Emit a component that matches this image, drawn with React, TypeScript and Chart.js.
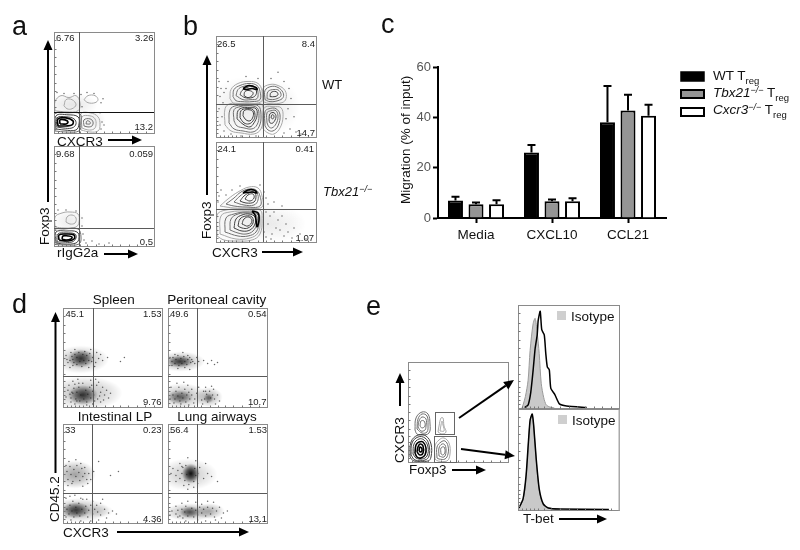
import React, { useEffect, useRef } from "react";
import { Chart, registerables } from "chart.js";

Chart.register(...registerables);

const FONT = "'Liberation Sans', Arial, sans-serif";

// ---------- Panel c values ----------
const migrationCategories = ["Media", "CXCL10", "CCL21"];
const wtTreg = [7, 26, 38];
const tbx21Treg = [5.5, 6.7, 42.7];
const cxcr3Treg = [5.5, 6.7, 40.6];
const wtUpper = [8.4, 29, 52.5];
const tbx21Upper = [6.2, 7.4, 49];
const cxcr3Upper = [7.1, 7.8, 45];
const migrationTicks = [0, 20, 40, 60];

// ---------- Flow panels: contour rings as flat x,y lists (percent of axis range) ----------
type Rings = { light?: number[][]; mid?: number[][]; dark?: number[][]; black?: number[][] };

const aTopRings: Rings = {
  light: [
    [1, 22, 1, 31, 7, 37, 15, 35, 22, 37, 26, 30, 24, 22, 12, 21],
    [10, 27, 12, 33, 18, 33, 22, 28, 18, 24, 13, 24],
    [30, 33, 34, 37, 41, 37, 44, 33, 41, 30, 34, 30],
    [27, 3, 27, 19, 36, 20, 44, 16, 46, 8, 44, 2, 36, 1],
    [28, 5, 28, 16, 36, 17, 41, 14, 42, 8, 40, 4, 34, 3],
  ],
  mid: [
    [30, 7, 30, 13, 36, 14, 39, 11, 38, 7, 34, 6],
    [32, 9, 33, 12, 36, 11, 36, 9],
    [1, 2, 0.5, 19, 14, 20, 26, 19, 27, 10, 25, 2, 12, 1],
  ],
  dark: [
    [2, 4, 2, 17, 14, 18, 24, 16, 25, 9, 22, 3, 10, 3],
    [3, 6, 3, 15, 12, 16, 20, 14, 22, 9, 18, 5, 9, 5],
  ],
  black: [
    [4, 7, 4, 14, 12, 15, 19, 12, 18, 8, 12, 7],
    [6, 9, 6, 13, 11, 13, 14, 11, 12, 9],
  ],
};
const aBottomRings: Rings = {
  light: [
    [1, 19, 1, 29, 8, 33, 16, 34, 24, 32, 25, 24, 22, 19, 10, 18],
    [12, 24, 13, 29, 18, 31, 22, 28, 21, 23, 16, 22],
  ],
  mid: [[1, 1.5, 0.5, 16, 10, 17, 24, 17, 27, 9, 25, 2, 12, 1]],
  dark: [
    [2, 3, 2, 14, 12, 15, 23, 14, 25, 8, 22, 3, 10, 2],
    [3, 4, 4, 12, 12, 13, 21, 12, 22, 8, 18, 4, 9, 4],
  ],
  black: [
    [5, 6, 5, 11, 12, 12, 20, 11, 20, 7, 14, 5],
    [8, 7, 9, 10, 14, 10, 18, 9, 17, 7, 12, 6],
  ],
};
const bTopRings: Rings = {
  light: [
    [14, 38, 15, 47, 22, 53, 33, 55, 42, 53, 46, 46, 46, 36, 38, 33, 26, 33, 18, 33],
    [47, 35, 47, 48, 54, 52, 62, 51, 69, 46, 70, 38, 66, 34, 54, 33],
    [9, 12, 9, 28, 14, 33, 25, 33, 37, 33, 46, 32, 47, 20, 45, 8, 38, 3, 25, 4, 15, 6],
    [47, 8, 47, 26, 50, 30, 57, 30, 65, 29, 67, 20, 64, 9, 58, 3, 52, 4],
  ],
  mid: [
    [17, 40, 18, 47, 24, 51, 33, 53, 41, 51, 44, 45, 44, 37, 36, 35, 26, 35, 20, 36],
    [20, 41, 22, 47, 27, 50, 34, 51, 40, 49, 42, 44, 41, 38, 35, 37, 27, 37],
    [49, 37, 49, 46, 55, 50, 62, 49, 67, 44, 67, 39, 62, 36, 54, 35],
    [51, 38, 52, 45, 58, 47, 63, 46, 65, 41, 61, 38, 55, 37],
    [13, 14, 14, 27, 20, 31, 30, 31, 42, 31, 45, 22, 43, 10, 37, 5, 27, 6, 18, 8],
    [18, 16, 18, 27, 24, 30, 32, 31, 41, 29, 43, 21, 41, 12, 36, 8, 28, 9, 21, 11],
    [49, 11, 49, 25, 53, 28, 60, 28, 64, 22, 62, 11, 57, 6, 52, 7],
    [51, 14, 51, 24, 55, 26, 60, 26, 62, 20, 60, 13, 56, 9, 53, 10],
  ],
  dark: [
    [24, 42, 26, 46, 31, 49, 36, 50, 40, 47, 40, 42, 36, 39, 29, 39],
    [28, 41, 29, 45, 33, 46, 37, 44, 36, 41, 32, 39],
    [54, 40, 55, 44, 60, 45, 62, 42, 59, 40],
    [21, 18, 22, 26, 27, 29, 33, 29, 40, 28, 41, 21, 38, 14, 34, 10, 28, 12],
    [24, 19, 25, 26, 30, 28, 37, 27, 39, 21, 37, 16, 33, 13, 28, 14],
    [27, 21, 28, 26, 33, 27, 37, 25, 37, 20, 34, 16, 30, 17],
    [53, 17, 54, 23, 58, 24, 60, 20, 57, 14, 54, 14],
    [55, 19, 56, 22, 58, 21, 57, 18],
  ],
  black: [[27, 48, 33, 51, 40, 49, 41, 47, 36, 48, 30, 47]],
};
const bBottomRings: Rings = {
  light: [
    [4, 36, 12, 43, 22, 50, 33, 55, 42, 54, 46, 46, 46, 35, 32, 34, 18, 34],
    [1, 6, 1, 27, 10, 32, 28, 33, 44, 32, 46, 22, 44, 8, 36, 2, 20, 1, 8, 2],
    [4, 8, 5, 26, 14, 30, 30, 31, 42, 30, 44, 20, 42, 9, 34, 4, 20, 3],
  ],
  mid: [
    [10, 38, 18, 44, 25, 50, 33, 53, 40, 52, 44, 46, 44, 36, 30, 35, 18, 36],
    [18, 40, 24, 46, 30, 50, 36, 52, 41, 49, 42, 42, 38, 37, 28, 37],
    [9, 10, 10, 24, 18, 28, 30, 30, 41, 28, 43, 20, 40, 10, 32, 6, 22, 6],
    [14, 12, 15, 23, 22, 28, 32, 29, 40, 27, 41, 19, 37, 11, 30, 8, 22, 9],
  ],
  dark: [
    [24, 41, 28, 46, 33, 49, 38, 50, 40, 46, 38, 40, 30, 39],
    [29, 43, 32, 47, 37, 48, 38, 44, 34, 41],
    [18, 14, 20, 23, 26, 27, 33, 28, 39, 25, 39, 18, 34, 12, 26, 11],
    [22, 16, 24, 23, 30, 26, 36, 25, 37, 19, 32, 14, 26, 14],
    [26, 18, 28, 23, 33, 25, 36, 21, 32, 16],
  ],
  black: [
    [27, 49, 32, 52, 38, 52, 41, 49, 36, 50],
    [36, 31, 42, 29, 43, 22, 41, 15, 40, 22, 39, 27],
  ],
};
const eGateRings: Rings = {
  light: [
    [30, 30, 31, 36, 33, 44, 35, 44, 36, 36, 38, 30, 34, 28],
    [32, 31, 33, 37, 34, 41, 35, 37, 36, 31],
    [27, 3, 27, 16, 31, 22, 36, 24, 41, 19, 42, 8, 39, 1, 30, 1],
  ],
  mid: [
    [7, 32, 8, 44, 14, 50, 20, 48, 22, 38, 21, 29, 14, 27, 9, 28],
    [9, 33, 10, 43, 14, 48, 19, 46, 20, 37, 19, 30, 14, 29],
    [10, 35, 11, 41, 14, 45, 18, 43, 18, 36, 17, 32, 13, 31],
    [12, 36, 13, 41, 16, 41, 17, 36, 14, 34],
    [29, 4, 29, 15, 33, 20, 37, 21, 40, 16, 40, 8, 37, 3, 31, 3],
    [31, 6, 31, 14, 34, 18, 37, 17, 38, 10, 36, 5],
    [33, 8, 33, 14, 36, 15, 37, 10, 35, 7],
  ],
  dark: [
    [2, 5, 3, 20, 10, 27, 18, 26, 23, 18, 23, 5, 20, 1, 6, 1],
    [3, 7, 4, 19, 10, 25, 17, 24, 21, 17, 21, 6, 17, 2, 7, 2],
    [5, 8, 6, 18, 11, 23, 16, 22, 20, 15, 19, 6, 14, 3, 8, 4],
  ],
  black: [
    [7, 9, 8, 17, 11, 20, 15, 20, 18, 14, 17, 7, 13, 4, 9, 5],
    [9, 10, 10, 15, 12, 18, 15, 16, 15, 9, 12, 7],
    [11, 11, 12, 15, 14, 13, 13, 10],
  ],
};

// ---------- Flow panels: density patches, each [x, y, spreadX, spreadY, shade] ----------
const aTopClouds = [[18, 28, 26, 12, 0.1], [38, 12, 14, 12, 0.08]];
const aBottomClouds = [[15, 25, 16, 12, 0.08]];
const bTopClouds = [[28, 28, 40, 32, 0.08], [58, 30, 26, 28, 0.07]];
const bBottomClouds = [[28, 22, 36, 28, 0.07], [60, 18, 30, 18, 0.07]];
const spleenClouds = [[18, 48, 28, 14, 0.28], [18, 49, 13, 9, 0.8], [22, 14, 38, 17, 0.28], [20, 12, 15, 10, 0.8]];
const peritonealClouds = [[13, 46, 24, 10, 0.32], [12, 46, 13, 6, 0.75], [14, 11, 26, 13, 0.28], [12, 10, 13, 7, 0.55], [41, 10, 14, 10, 0.3], [41, 9, 5, 5, 0.55]];
const intestinalClouds = [[12, 49, 21, 14, 0.38], [15, 13, 32, 12, 0.32], [13, 13, 14, 8, 0.75], [37, 12, 14, 7, 0.12]];
const lungClouds = [[20, 49, 30, 16, 0.22], [23, 50, 9, 10, 1], [22, 11, 26, 9, 0.32], [22, 11, 10, 6, 0.6], [42, 12, 15, 8, 0.3]];

// ---------- Flow panels: single events, flat x,y lists ----------
const spleenDots = [3, 52, 5, 45, 8, 55, 10, 42, 12, 58, 4, 48, 30, 50, 33, 45, 34, 55, 36, 49, 28, 58, 26, 40, 32, 41, 7, 40, 40, 47, 38, 53, 45, 50, 58, 46, 62, 50, 3, 10, 6, 22, 8, 5, 10, 26, 12, 3, 30, 3, 35, 8, 38, 15, 40, 20, 36, 25, 42, 12, 44, 17, 33, 28, 28, 27, 15, 28, 5, 17, 46, 9, 34, 22, 38, 5, 48, 14, 24, 2, 16, 24, 29, 22, 14, 6, 9, 15, 37, 11, 41, 7, 7, 47, 9, 51, 11, 45, 12, 53, 14, 43, 14, 50, 16, 55, 17, 46, 19, 41, 20, 53, 21, 47, 23, 44, 24, 52, 26, 47, 27, 54, 29, 46, 10, 48, 22, 56, 8, 9, 10, 14, 11, 19, 13, 8, 14, 15, 16, 20, 17, 6, 18, 12, 20, 24, 21, 8, 23, 17, 24, 5, 25, 13, 27, 20, 28, 9, 30, 16, 31, 12, 32, 6, 12, 23, 7, 13];
const peritonealDots = [2, 50, 4, 42, 7, 53, 10, 39, 15, 55, 20, 52, 24, 48, 27, 44, 29, 50, 31, 46, 22, 38, 17, 40, 36, 47, 40, 44, 44, 47, 47, 43, 50, 45, 3, 20, 6, 4, 9, 24, 13, 3, 16, 25, 20, 22, 24, 18, 27, 8, 29, 14, 26, 4, 21, 2, 31, 20, 34, 7, 36, 16, 38, 20, 46, 18, 50, 12, 52, 6, 48, 3, 44, 21, 35, 3, 2, 8, 4, 46, 5, 50, 7, 44, 8, 48, 10, 52, 11, 42, 13, 49, 14, 44, 16, 51, 17, 46, 19, 43, 20, 48, 22, 50, 23, 45, 25, 46, 5, 12, 7, 8, 8, 16, 10, 11, 11, 20, 12, 6, 14, 14, 15, 9, 17, 18, 18, 5, 19, 12, 21, 15, 22, 8, 24, 12, 37, 8, 39, 13, 40, 5, 42, 16, 43, 9, 45, 12, 38, 16, 47, 8];
const intestinalDots = [3, 58, 6, 62, 9, 40, 13, 64, 18, 60, 22, 56, 26, 50, 28, 44, 25, 40, 20, 37, 5, 38, 31, 52, 36, 62, 48, 48, 56, 52, 3, 25, 7, 27, 12, 28, 18, 25, 24, 24, 30, 22, 34, 18, 38, 20, 42, 14, 46, 10, 50, 12, 44, 5, 36, 3, 28, 2, 18, 2, 8, 3, 3, 6, 54, 9, 40, 24, 4, 52, 5, 44, 7, 57, 8, 49, 10, 42, 11, 54, 13, 47, 14, 58, 16, 51, 17, 43, 19, 55, 20, 47, 22, 50, 24, 44, 4, 14, 6, 9, 7, 18, 9, 12, 10, 22, 11, 6, 13, 16, 14, 10, 16, 20, 17, 7, 19, 14, 20, 24, 22, 10, 23, 17, 25, 6, 26, 13, 28, 18, 30, 9, 32, 14, 35, 11, 38, 8];
const lungDots = [3, 50, 5, 55, 8, 42, 12, 60, 16, 38, 20, 34, 26, 36, 30, 40, 32, 56, 28, 63, 20, 66, 14, 57, 36, 45, 40, 50, 44, 47, 50, 42, 38, 60, 4, 12, 8, 17, 10, 6, 14, 20, 20, 22, 28, 21, 34, 19, 40, 22, 46, 21, 52, 16, 56, 10, 54, 5, 48, 3, 38, 2, 30, 3, 18, 2, 60, 12, 2, 8, 8, 48, 10, 53, 12, 45, 14, 50, 15, 56, 17, 43, 18, 58, 19, 49, 21, 39, 26, 42, 27, 55, 28, 48, 30, 50, 8, 9, 10, 13, 12, 7, 14, 14, 15, 5, 17, 11, 18, 17, 20, 7, 24, 15, 26, 6, 28, 13, 30, 8, 32, 16, 34, 10, 36, 14, 38, 7, 40, 16, 43, 9, 45, 15, 47, 6, 49, 12];
const bTopDots = [3, 55, 5, 48, 8, 44, 4, 40, 7, 34, 3, 28, 6, 20, 4, 12, 8, 6, 10, 48, 12, 55, 30, 60, 42, 58, 55, 58, 68, 55, 73, 48, 75, 38, 72, 28, 70, 18, 74, 8, 68, 4, 80, 5, 85, 3, 40, 1, 25, 1, 15, 3, 62, 64, 78, 20];
const bBottomDots = [2, 40, 3, 46, 5, 52, 10, 47, 16, 52, 24, 56, 44, 57, 48, 50, 50, 44, 52, 38, 50, 30, 54, 26, 58, 30, 62, 22, 66, 26, 70, 18, 60, 14, 52, 18, 48, 10, 56, 8, 64, 12, 72, 10, 78, 14, 68, 6, 76, 4, 84, 8, 58, 40, 66, 36, 55, 3, 50, 5, 90, 3];
const aTopDots = [3, 40, 10, 39, 20, 39, 27, 38, 28, 26, 47, 30, 46, 20, 48, 11, 47, 4, 50, 8, 40, 39, 33, 40, 49, 34];
const aBottomDots = [4, 36, 12, 36, 22, 35, 28, 28, 29, 12, 30, 6, 32, 3, 38, 5, 45, 2, 55, 3, 28, 20];

// ---------- Histogram traces (x, count %) as flat lists ----------
const tbetTopIsotype = [4, 0, 5, 3, 7.3, 11, 10, 27, 12, 56, 15, 82, 17, 87, 19, 73, 21, 53, 23, 24, 25.5, 10, 28, 3, 31.5, 1, 36, 0];
const tbetTopStain = [6.6, 0.5, 10, 3, 12.6, 15, 15, 37, 17, 58, 19, 71, 20, 85, 22, 94, 23.5, 76, 26, 71, 27.5, 53, 29, 40, 31, 37, 32.5, 19, 36.5, 13, 41, 4, 48, 2, 68, 0.5];
const tbetBottomIsotype = [1, 2, 5, 10, 8, 33, 10.5, 69, 12, 88, 14, 94, 15.5, 83, 18, 50, 21, 20, 25, 5, 30, 2, 41, 1];
const tbetBottomStain = [1, 2, 5, 11, 8, 34, 10.5, 70, 12, 89, 14, 95, 15.5, 84, 18, 51, 21, 21, 25, 6, 30, 2, 41, 1, 90, 0.5];

const LOG_TICKS = [4, 8, 12, 16, 20, 26, 33, 42, 50, 58, 66, 75, 83, 92];
const SHADES: Record<string, [string, number]> = {
  light: ["#a8a8a8", 1],
  mid: ["#707070", 1],
  dark: ["#404040", 1],
  black: ["#000000", 1.6],
};

const pairs = (flat: number[]) => {
  const out: { x: number; y: number }[] = [];
  for (let i = 0; i + 1 < flat.length; i += 2) out.push({ x: flat[i], y: flat[i + 1] });
  return out;
};

// Marker texture: a soft elliptical patch so one point reads as a dense group of events.
function softSprite(rx: number, ry: number, shade: number) {
  const c = document.createElement("canvas");
  c.width = Math.ceil(rx * 2 + 2);
  c.height = Math.ceil(ry * 2 + 2);
  const g = c.getContext("2d")!;
  g.translate(c.width / 2, c.height / 2);
  g.scale(rx, ry);
  const grad = g.createRadialGradient(0, 0, 0, 0, 0, 1);
  grad.addColorStop(0, `rgba(10,10,10,${shade})`);
  grad.addColorStop(0.5, `rgba(10,10,10,${shade * 0.6})`);
  grad.addColorStop(1, "rgba(10,10,10,0)");
  g.fillStyle = grad;
  g.beginPath();
  g.arc(0, 0, 1, 0, Math.PI * 2);
  g.fill();
  return c;
}

type Box = { l: number; t: number; w: number; h: number };
type PanelProps = {
  box: Box;
  qx?: number;
  qy?: number;
  heavyH?: boolean;
  rings?: Rings;
  clouds?: number[][];
  dots?: number[];
  gates?: number[][];
  traces?: { iso: number[]; stain: number[] };
  rightEdge?: boolean;
};

function Panel({ box, qx, qy, heavyH, rings, clouds, dots, gates, traces, rightEdge }: PanelProps) {
  const ref = useRef<HTMLCanvasElement>(null);
  useEffect(() => {
    const datasets: any[] = [];
    if (rings) {
      for (const shade of ["black", "dark", "mid", "light"]) {
        const list = (rings as any)[shade] || [];
        for (const r of list) {
          datasets.push({
            data: pairs([...r, r[0], r[1]]),
            showLine: true,
            borderColor: SHADES[shade][0],
            borderWidth: SHADES[shade][1],
            tension: 0.4,
            pointRadius: 0,
            fill: false,
          });
        }
      }
    }
    if (traces) {
      datasets.push({
        data: pairs(traces.stain),
        showLine: true,
        borderColor: "#000",
        borderWidth: 1.5,
        tension: 0.2,
        pointRadius: 0,
        fill: false,
      });
      datasets.push({
        data: pairs(traces.iso),
        showLine: true,
        borderColor: "#9a9a9a",
        borderWidth: 1,
        backgroundColor: "#c9c9c9",
        tension: 0.3,
        pointRadius: 0,
        fill: "origin",
      });
    }
    if (dots) {
      datasets.push({
        data: pairs(dots),
        showLine: false,
        pointRadius: 0.75,
        borderWidth: 0,
        backgroundColor: "rgba(25,25,25,0.65)",
      });
    }
    if (clouds) {
      const sprites = clouds.map((b) => softSprite(b[2], b[3], b[4]));
      datasets.push({
        data: clouds.map((b) => ({ x: b[0], y: b[1] })),
        showLine: false,
        pointRadius: 3,
        pointStyle: (c: any) => sprites[c.dataIndex],
      });
    }
    const frame = {
      id: "frame",
      afterDatasetsDraw(chart: any) {
        const { ctx, chartArea: a, scales } = chart;
        const X = (v: number) => Math.round(scales.x.getPixelForValue(v)) + 0.5;
        const Y = (v: number) => Math.round(scales.y.getPixelForValue(v)) + 0.5;
        ctx.save();
        ctx.lineWidth = 1;
        ctx.strokeStyle = "#8a8a8a";
        ctx.strokeRect(X(0), Y(100), X(100) - X(0), Y(0) - Y(100));
        ctx.strokeStyle = "#777";
        ctx.beginPath();
        for (const t of LOG_TICKS) {
          ctx.moveTo(X(0), Y(t));
          ctx.lineTo(X(0) + 2, Y(t));
          ctx.moveTo(X(t), Y(0));
          ctx.lineTo(X(t), Y(0) - 2);
        }
        ctx.stroke();
        ctx.strokeStyle = "#5a5a5a";
        if (qx !== undefined) {
          ctx.beginPath();
          ctx.moveTo(X(qx), a.top);
          ctx.lineTo(X(qx), a.bottom);
          ctx.stroke();
        }
        if (qy !== undefined) {
          ctx.strokeStyle = heavyH ? "#111" : "#5a5a5a";
          ctx.beginPath();
          ctx.moveTo(a.left, Y(qy));
          ctx.lineTo(a.right, Y(qy));
          ctx.stroke();
        }
        for (const g of gates || []) {
          ctx.strokeStyle = "#666";
          ctx.strokeRect(X(g[0]), Y(g[3]), X(g[1]) - X(g[0]), Y(g[2]) - Y(g[3]));
        }
        if (rightEdge) {
          ctx.strokeStyle = "#aaa";
          ctx.lineWidth = 2;
          ctx.beginPath();
          ctx.moveTo(X(100), Y(0));
          ctx.lineTo(X(100), Y(100));
          ctx.stroke();
        }
        ctx.restore();
      },
    };
    const chart = new Chart(ref.current!, {
      type: "scatter",
      data: { datasets },
      options: {
        animation: false,
        responsive: false,
        events: [],
        layout: { padding: 1, autoPadding: false },
        plugins: { legend: { display: false }, tooltip: { enabled: false } },
        scales: {
          x: { type: "linear", min: 0, max: 100, display: false },
          y: { type: "linear", min: 0, max: 100, display: false },
        },
      } as any,
      plugins: [frame as any],
    });
    return () => chart.destroy();
  }, []);
  return (
    <canvas
      ref={ref}
      width={box.w + 2}
      height={box.h + 2}
      style={{ position: "absolute", left: box.l - 1, top: box.t - 1, width: box.w + 2, height: box.h + 2 }}
    />
  );
}

function MigrationChart() {
  const ref = useRef<HTMLCanvasElement>(null);
  useEffect(() => {
    const uppers = [wtUpper, tbx21Upper, cxcr3Upper];
    const errorBars = {
      id: "errorBars",
      beforeDatasetsDraw(chart: any) {
        const { ctx, scales } = chart;
        ctx.save();
        ctx.strokeStyle = "#000";
        ctx.lineWidth = 2;
        uppers.forEach((arr, d) => {
          chart.getDatasetMeta(d).data.forEach((bar: any, i: number) => {
            const y = scales.y.getPixelForValue(arr[i]);
            ctx.beginPath();
            ctx.moveTo(bar.x, bar.y);
            ctx.lineTo(bar.x, y);
            ctx.moveTo(bar.x - 4, y);
            ctx.lineTo(bar.x + 4, y);
            ctx.stroke();
          });
        });
        ctx.restore();
      },
    };
    const shared = { borderColor: "#000", borderWidth: 2, categoryPercentage: 0.81, barPercentage: 0.73 };
    const chart = new Chart(ref.current!, {
      type: "bar",
      data: {
        labels: migrationCategories,
        datasets: [
          { label: "WT Treg", data: wtTreg, backgroundColor: "#000", ...shared },
          { label: "Tbx21-/- Treg", data: tbx21Treg, backgroundColor: "#959595", ...shared },
          { label: "Cxcr3-/- Treg", data: cxcr3Treg, backgroundColor: "#fff", ...shared },
        ],
      },
      options: {
        animation: false,
        responsive: false,
        events: [],
        layout: { padding: { top: 11, right: 4, bottom: 0, left: 0 } },
        plugins: { legend: { display: false }, tooltip: { enabled: false } },
        scales: {
          x: {
            afterFit: (s: any) => { s.height = 28; },
            border: { width: 2, color: "#000" },
            grid: { offset: false, drawOnChartArea: false, tickLength: 5, tickWidth: 2, tickColor: "#000" },
            ticks: { color: "#111", font: { family: FONT, size: 13.5 }, padding: 4, maxRotation: 0 },
          },
          y: {
            min: 0,
            max: 60,
            afterFit: (s: any) => { s.width = 41; },
            afterBuildTicks: (s: any) => { s.ticks = migrationTicks.map((value) => ({ value })); },
            border: { width: 2, color: "#000" },
            grid: { drawOnChartArea: false, tickLength: 5, tickWidth: 2, tickColor: "#000" },
            ticks: { color: "#555", font: { family: FONT, size: 13 }, padding: 2 },
          },
        },
      } as any,
      plugins: [errorBars as any],
    });
    return () => chart.destroy();
  }, []);
  return <canvas ref={ref} width={273} height={190} style={{ position: "absolute", left: 397, top: 56, width: 273, height: 190 }} />;
}

function Arrow({ x1, y1, x2, y2, w = 2, head = 10 }: { x1: number; y1: number; x2: number; y2: number; w?: number; head?: number }) {
  const a = Math.atan2(y2 - y1, x2 - x1);
  const bx = x2 - Math.cos(a) * head;
  const by = y2 - Math.sin(a) * head;
  const nx = -Math.sin(a) * head * 0.45;
  const ny = Math.cos(a) * head * 0.45;
  return (
    <g>
      <line x1={x1} y1={y1} x2={bx} y2={by} stroke="#000" strokeWidth={w} />
      <polygon points={`${x2},${y2} ${bx + nx},${by + ny} ${bx - nx},${by - ny}`} fill="#000" />
    </g>
  );
}

function Txt({ x, y, s = 13.5, end, mid, rot, fill = "#111", children }: any) {
  return (
    <text
      x={x}
      y={y}
      fontSize={s}
      fill={fill}
      fontFamily={FONT}
      textAnchor={end ? "end" : mid ? "middle" : "start"}
      transform={rot ? `rotate(-90 ${x} ${y})` : undefined}
    >
      {children}
    </text>
  );
}

const Num = (p: any) => <Txt s={9.5} fill="#222" {...p} />;

export default function App() {
  return (
    <div style={{ position: "absolute", left: 0, top: 0, width: 800, height: 550, overflow: "hidden", background: "#fff", filter: "blur(0.3px)" }}>
      <Panel box={{ l: 54, t: 32, w: 100, h: 101 }} qx={25} qy={21} heavyH rings={aTopRings} clouds={aTopClouds} dots={aTopDots} />
      <Panel box={{ l: 54, t: 146, w: 100, h: 100 }} qx={25} qy={18} rings={aBottomRings} clouds={aBottomClouds} dots={aBottomDots} />
      <Panel box={{ l: 216, t: 36, w: 100, h: 101 }} qx={47} qy={33} rings={bTopRings} clouds={bTopClouds} dots={bTopDots} />
      <Panel box={{ l: 216, t: 142, w: 100, h: 100 }} qx={47} qy={33} rings={bBottomRings} clouds={bBottomClouds} dots={bBottomDots} />
      <MigrationChart />
      <Panel box={{ l: 63, t: 308, w: 99, h: 99 }} qx={30} qy={31} clouds={spleenClouds} dots={spleenDots} />
      <Panel box={{ l: 168, t: 308, w: 99, h: 99 }} qx={29} qy={31} clouds={peritonealClouds} dots={peritonealDots} />
      <Panel box={{ l: 63, t: 424, w: 99, h: 99 }} qx={29} qy={30} clouds={intestinalClouds} dots={intestinalDots} />
      <Panel box={{ l: 168, t: 424, w: 99, h: 99 }} qx={29} qy={30} clouds={lungClouds} dots={lungDots} />
      <Panel box={{ l: 408, t: 362, w: 100, h: 100 }} rings={eGateRings} gates={[[27, 46, 28, 50], [26, 48, 0, 26]]} />
      <Panel box={{ l: 518, t: 305, w: 101, h: 103 }} traces={{ iso: tbetTopIsotype, stain: tbetTopStain }} />
      <Panel box={{ l: 518, t: 409, w: 101, h: 101 }} traces={{ iso: tbetBottomIsotype, stain: tbetBottomStain }} rightEdge />

      <svg width={800} height={550} style={{ position: "absolute", left: 0, top: 0, pointerEvents: "none" }}>
        <Txt x={12} y={35} s={27}>a</Txt>
        <Txt x={183} y={35} s={27}>b</Txt>
        <Txt x={381} y={33} s={27}>c</Txt>
        <Txt x={12} y={313} s={27}>d</Txt>
        <Txt x={366} y={315} s={27}>e</Txt>

        <Txt x={410} y={204} rot>Migration (% of input)</Txt>

        <Num x={56} y={41}>6.76</Num>
        <Num x={153.5} y={41} end>3.26</Num>
        <Num x={153} y={130} end>13.2</Num>
        <Num x={56} y={156.5}>9.68</Num>
        <Num x={153} y={156.5} end>0.059</Num>
        <Num x={153} y={245} end>0.5</Num>
        <Txt x={57} y={145.5}>CXCR3</Txt>
        <Arrow x1={108} y1={140} x2={142} y2={140} />
        <Txt x={57} y={257}>rIgG2a</Txt>
        <Arrow x1={104} y1={254} x2={138} y2={254} />
        <Txt x={49} y={245} rot>Foxp3</Txt>
        <Arrow x1={48} y1={202} x2={48} y2={40} />

        <Num x={217} y={47}>26.5</Num>
        <Num x={315} y={47} end>8.4</Num>
        <Num x={315} y={136} end>14.7</Num>
        <Num x={217.5} y={152}>24.1</Num>
        <Num x={314} y={152} end>0.41</Num>
        <Num x={314} y={241} end>1.07</Num>
        <Txt x={211} y={239} rot>Foxp3</Txt>
        <Arrow x1={207} y1={195} x2={207} y2={55} />
        <Txt x={212} y={256.5}>CXCR3</Txt>
        <Arrow x1={262} y1={252} x2={303} y2={252} />
        <Txt x={322} y={89} s={13}>WT</Txt>
        <text x={323} y={196} fontSize={13} fontFamily={FONT} fontStyle="italic" fill="#111">
          Tbx21<tspan dy={-4} fontSize={9}>−/−</tspan>
        </text>

        <rect x={681} y={72} width={23} height={9} fill="#000" stroke="#000" strokeWidth={1.5} />
        <rect x={681} y={90} width={23} height={8} fill="#959595" stroke="#000" strokeWidth={2} />
        <rect x={681} y={108} width={23} height={8} fill="#fff" stroke="#000" strokeWidth={2} />
        <text x={713} y={80} fontSize={13.5} fontFamily={FONT} fill="#111">
          WT T<tspan dy={4} fontSize={9.5}>reg</tspan>
        </text>
        <text x={713} y={97} fontSize={13.5} fontFamily={FONT} fill="#111">
          <tspan fontStyle="italic">Tbx21</tspan>
          <tspan dy={-4} fontSize={9} fontStyle="italic">−/−</tspan>
          <tspan dy={4}> T</tspan>
          <tspan dy={4} fontSize={9.5}>reg</tspan>
        </text>
        <text x={713} y={114} fontSize={13.5} fontFamily={FONT} fill="#111">
          <tspan fontStyle="italic">Cxcr3</tspan>
          <tspan dy={-4} fontSize={9} fontStyle="italic">−/−</tspan>
          <tspan dy={4}> T</tspan>
          <tspan dy={4} fontSize={9.5}>reg</tspan>
        </text>

        <Txt x={113.7} y={304} mid>Spleen</Txt>
        <Txt x={216.7} y={304} mid>Peritoneal cavity</Txt>
        <Txt x={115} y={421} mid>Intestinal LP</Txt>
        <Txt x={217} y={421} mid>Lung airways</Txt>
        <Num x={65.5} y={317}>45.1</Num>
        <Num x={161.5} y={317} end>1.53</Num>
        <Num x={161.5} y={405} end>9.76</Num>
        <Num x={170} y={317}>49.6</Num>
        <Num x={266.5} y={317} end>0.54</Num>
        <Num x={266.5} y={405} end>10.7</Num>
        <Num x={65} y={433}>33</Num>
        <Num x={161.5} y={433} end>0.23</Num>
        <Num x={161.5} y={522} end>4.36</Num>
        <Num x={170} y={433}>56.4</Num>
        <Num x={267} y={433} end>1.53</Num>
        <Num x={267} y={522} end>13.1</Num>
        <Txt x={58.7} y={522} rot>CD45.2</Txt>
        <Arrow x1={55.5} y1={473} x2={55.5} y2={312} />
        <Txt x={63} y={537}>CXCR3</Txt>
        <Arrow x1={117} y1={532} x2={249} y2={532} />

        <Txt x={404} y={463} rot>CXCR3</Txt>
        <Arrow x1={400} y1={406} x2={400} y2={373} />
        <Txt x={409} y={474}>Foxp3</Txt>
        <Arrow x1={452} y1={470} x2={486} y2={470} />
        <Arrow x1={459} y1={418} x2={514} y2={380} />
        <Arrow x1={461} y1={449} x2={515} y2={456} />
        <Txt x={523} y={522.5}>T-bet</Txt>
        <Arrow x1={559} y1={519} x2={607} y2={519} />
        <rect x={557} y={311} width={9} height={9} fill="#cfcfcf" />
        <Txt x={571} y={321}>Isotype</Txt>
        <rect x={558} y={415} width={9} height={9} fill="#cfcfcf" />
        <Txt x={572} y={425}>Isotype</Txt>
      </svg>
    </div>
  );
}
